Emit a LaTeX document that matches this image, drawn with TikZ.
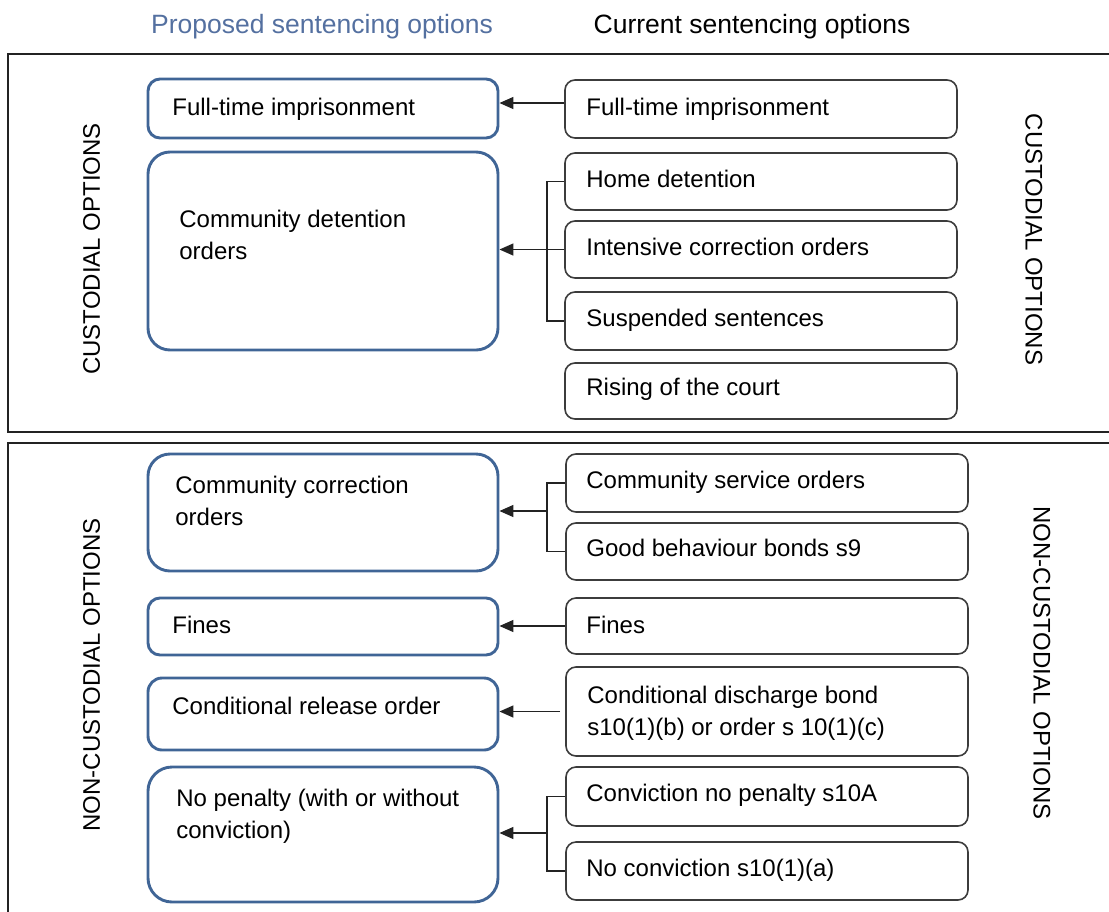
\documentclass[tikz,border=0pt]{standalone}
\usepackage{fontspec}
\setmainfont{Liberation Sans}
\usetikzlibrary{arrows.meta}
\definecolor{boxblue}{RGB}{64,101,150}
\definecolor{headblue}{RGB}{84,112,160}
\definecolor{linegray}{RGB}{35,35,35}
\definecolor{boxgray}{RGB}{60,60,60}
\begin{document}
\begin{tikzpicture}[x=0.5pt,y=-0.5pt,
  propbox/.style={draw=boxblue, line width=1.45pt, minimum width=175pt, inner sep=0pt},
  curbox/.style={draw=boxgray, line width=0.8pt, rounded corners=5pt, inner sep=0pt},
  topcur/.style={curbox, minimum width=196pt},
  botcur/.style={curbox, minimum width=201pt},
  txt/.style={anchor=base west, inner sep=0pt, font=\fontsize{12}{14}\selectfont},
  vlabel/.style={inner sep=0pt, font=\fontsize{12}{14}\selectfont},
  head/.style={anchor=base, inner sep=0pt, font=\fontsize{13.25}{16}\selectfont},
  frame/.style={draw=linegray, line width=1pt},
  conn/.style={draw=linegray, line width=0.75pt},
  arr/.style={conn, -{Triangle[length=7pt,width=6pt]}}]

\useasboundingbox (0,0) rectangle (1109,911);

% headers
\node[head, text=headblue] (h1) at (322,33.5) {Proposed sentencing options};
\node[head] (h2) at (752,33.5) {Current sentencing options};

% outer frames
\draw[frame] (8,54) rectangle (1130,432);
\draw[frame] (8,443) rectangle (1130,930);

% side labels
\node[vlabel, rotate=90] (cl) at (91.5,249) {CUSTODIAL OPTIONS};
\node[vlabel, rotate=-90] (cr) at (1034,239.5) {CUSTODIAL OPTIONS};
\node[vlabel, rotate=90] (nl) at (91.5,675) {NON-CUSTODIAL OPTIONS};
\node[vlabel, rotate=-90] (nr) at (1042,663) {NON-CUSTODIAL OPTIONS};

% proposed boxes
\node[propbox, rounded corners=6pt, minimum height=29.5pt] (l1) at (323,108.5) {};
\node[propbox, rounded corners=11pt, minimum height=99pt] (l2) at (323,251) {};
\node[propbox, rounded corners=11pt, minimum height=58.5pt] (l3) at (323,512.5) {};
\node[propbox, rounded corners=6pt, minimum height=28.5pt] (l4) at (323,626.5) {};
\node[propbox, rounded corners=7pt, minimum height=36pt] (l5) at (323,714) {};
\node[propbox, rounded corners=12pt, minimum height=67.5pt] (l6) at (323,834.5) {};

\node[txt] (t1) at (172,115.6) {Full-time imprisonment};
\node[txt] (t2a) at (179,227.6) {Community detention};
\node[txt] (t2b) at (179,259.6) {orders};
\node[txt] (t3a) at (175,493.6) {Community correction};
\node[txt] (t3b) at (175,525.6) {orders};
\node[txt] (t4) at (172,633.6) {Fines};
\node[txt] (t5) at (172,714.3) {Conditional release order};
\node[txt] (t6a) at (176,806.6) {No penalty (with or without};
\node[txt] (t6b) at (176,838.6) {conviction)};

% current boxes
\node[topcur, minimum height=29pt] (r1) at (761,109) {};
\node[topcur, minimum height=28.5pt] (r2) at (761,181.5) {};
\node[topcur, minimum height=28.5pt] (r3) at (761,249.5) {};
\node[topcur, minimum height=29pt] (r4) at (761,321) {};
\node[topcur, minimum height=28pt] (r5) at (761,391) {};
\node[botcur, minimum height=29pt] (r6) at (767,483) {};
\node[botcur, minimum height=28.5pt] (r7) at (767,551.5) {};
\node[botcur, minimum height=28pt] (r8) at (767,626) {};
\node[botcur, minimum height=44.5pt] (r9) at (767,711.5) {};
\node[botcur, minimum height=29.5pt] (r10) at (767,796.5) {};
\node[botcur, minimum height=29pt] (r11) at (767,871) {};

\node[txt] (s1) at (586,115.6) {Full-time imprisonment};
\node[txt] (s2) at (586,187) {Home detention};
\node[txt] (s3) at (586,255) {Intensive correction orders};
\node[txt] (s4) at (586,326) {Suspended sentences};
\node[txt] (s5) at (586,395) {Rising of the court};
\node[txt] (s6) at (586,488.5) {Community service orders};
\node[txt] (s7) at (586,556.5) {Good behaviour bonds s9};
\node[txt] (s8) at (586,633) {Fines};
\node[txt] (s9a) at (587,703) {Conditional discharge bond};
\node[txt] (s9b) at (587,735) {s10(1)(b) or order s 10(1)(c)};
\node[txt] (s10) at (586,801.5) {Conviction no penalty s10A};
\node[txt] (s11) at (586,876.5) {No conviction s10(1)(a)};

% connectors
\coordinate (j1) at (547,249.5);
\coordinate (j2) at (547,511);
\coordinate (j3) at (547,833);

\draw[arr] ([yshift=3pt]r1.west) -- ([yshift=2.75pt]l1.east);

\draw[conn] (r2.west) -| (j1) |- (r4.west);
\draw[arr] (r3.west) -- (l2.east |- r3.west);

\draw[conn] (r6.west) -| (j2) |- (r7.west);
\draw[arr] (j2) -- (l3.east |- j2);

\draw[arr] (r8.west) -- (l4.east |- r8.west);

\draw[arr] ([xshift=-2.5pt]r9.west) -- (l5.east |- r9.west);

\draw[conn] (r10.west) -| (j3) |- (r11.west);
\draw[arr] (j3) -- (l6.east |- j3);
\end{tikzpicture}
\end{document}
